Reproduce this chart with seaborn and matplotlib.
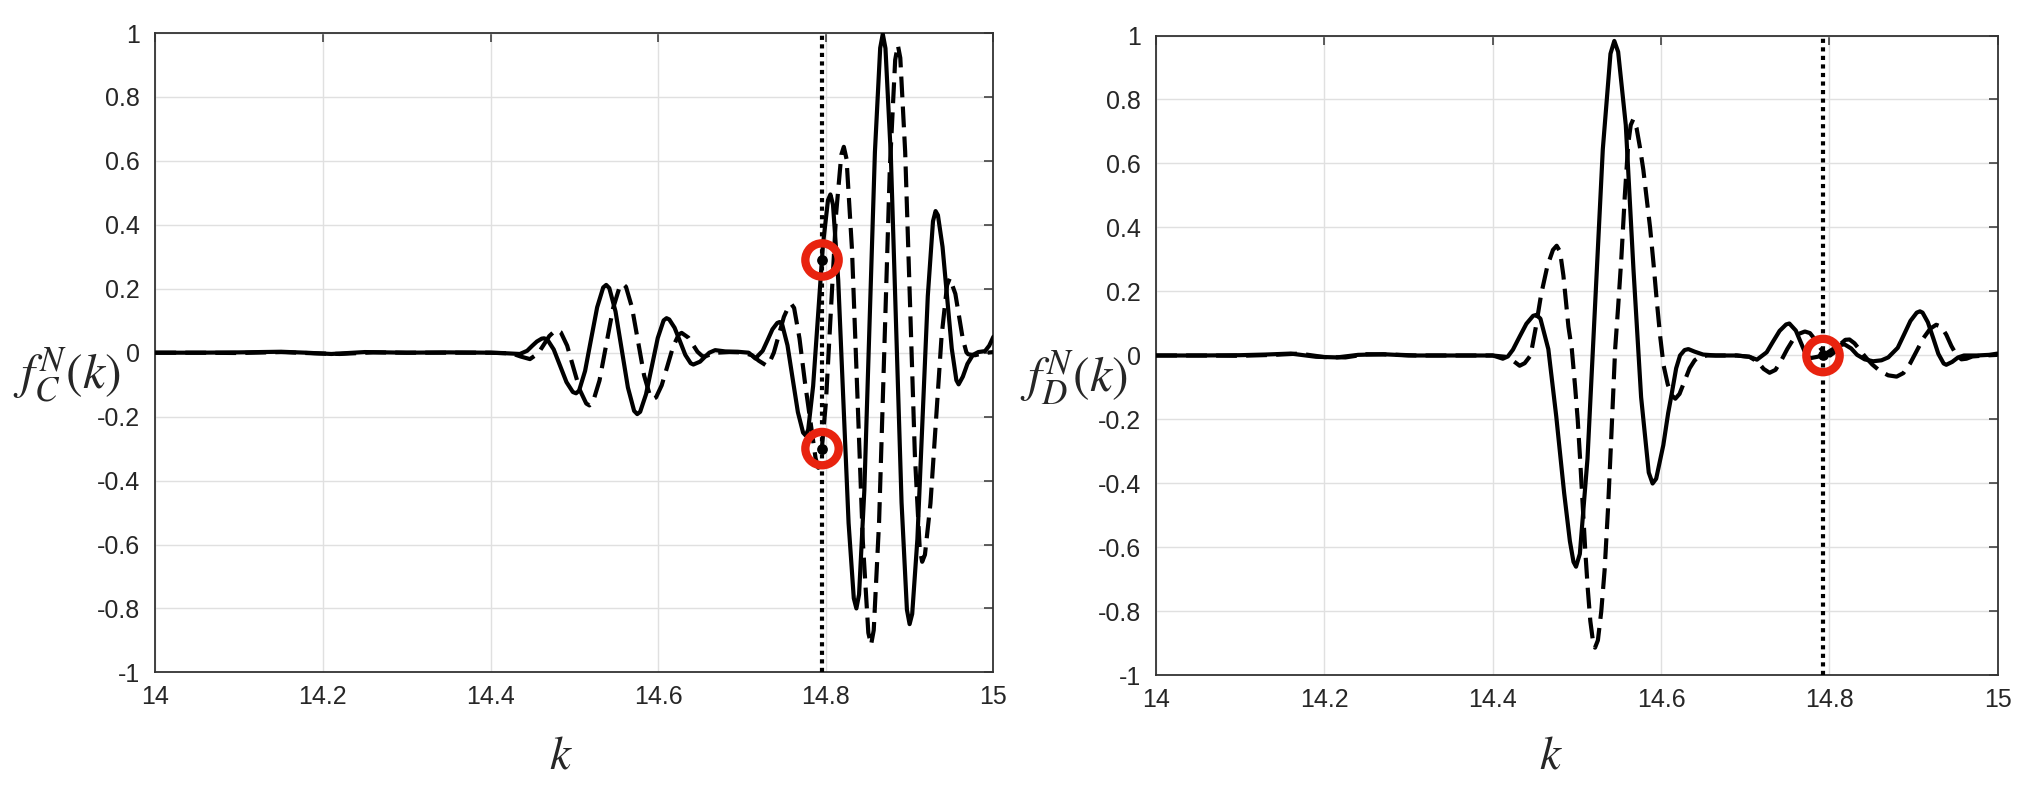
import numpy as np
import pandas as pd
import matplotlib
matplotlib.use("Agg")
import matplotlib.pyplot as plt
import seaborn as sns

# ---------------- data ----------------
kC_solid = [14.000, 14.050, 14.100, 14.150, 14.180, 14.210, 14.250, 14.300, 14.350, 14.400, 14.420, 14.435,
            14.4437, 14.4495, 14.4553, 14.4611, 14.464, 14.4678, 14.4754, 14.483, 14.4906, 14.4982, 14.502,
            14.5056, 14.5128, 14.520, 14.5272, 14.5344, 14.538, 14.5417, 14.5491, 14.5565, 14.5639, 14.5713,
            14.575, 14.5785, 14.5855, 14.5925, 14.5995, 14.6065, 14.610, 14.6132, 14.6196, 14.626, 14.6324,
            14.6388, 14.642, 14.650, 14.655, 14.661, 14.668, 14.680, 14.695, 14.708, 14.716, 14.7247, 14.7305,
            14.7363, 14.7421, 14.745, 14.7481, 14.7543, 14.7605, 14.7667, 14.7729, 14.776, 14.7790, 14.7849,
            14.7908, 14.7967, 14.8026, 14.8055, 14.8086, 14.8148, 14.8210, 14.8272, 14.8334, 14.8365, 14.8397,
            14.8460, 14.8523, 14.8586, 14.8649, 14.868, 14.8712, 14.8776, 14.884, 14.8904, 14.8968, 14.900,
            14.9031, 14.9093, 14.9155, 14.9217, 14.9279, 14.931, 14.9338, 14.9393, 14.9448, 14.9503, 14.9558,
            14.9585, 14.9635, 14.969, 14.9755, 14.982, 14.990, 14.995, 15.000]
fC_solid = [0.000, 0.000, 0.001, 0.003, 0.000, -0.004, 0.002, 0.000, 0.001, 0.000, -0.002, -0.004,
            0.006, 0.021, 0.035, 0.044, 0.045, 0.041, 0.010, -0.041, -0.092, -0.123, -0.127,
            -0.119, -0.057, 0.043, 0.142, 0.204, 0.212, 0.202, 0.129, 0.010, -0.109, -0.182,
            -0.192, -0.185, -0.130, -0.042, 0.046, 0.101, 0.108, 0.104, 0.078, 0.036, -0.007,
            -0.033, -0.037, -0.028, -0.015, 0.000, 0.008, 0.004, 0.003, 0.000, -0.018, 0.006, 0.039,
            0.073, 0.093, 0.096, 0.087, 0.023, -0.082, -0.186, -0.250, -0.259, -0.241, -0.104,
            0.118, 0.340, 0.477, 0.495, 0.463, 0.228, -0.153, -0.533, -0.768, -0.800, -0.756,
            -0.430, 0.099, 0.627, 0.953, 0.997, 0.952, 0.617, 0.074, -0.469, -0.804, -0.849,
            -0.817, -0.583, -0.203, 0.177, 0.411, 0.443, 0.430, 0.331, 0.172, 0.013, -0.086,
            -0.099, -0.075, -0.035, -0.007, 0.002, 0.005, 0.022, 0.050]

kC_dash = [14.000, 14.050, 14.100, 14.150, 14.190, 14.220, 14.260, 14.300, 14.350, 14.400, 14.425, 14.436,
           14.447, 14.4569, 14.4635, 14.4701, 14.4767, 14.480, 14.4838, 14.4914, 14.499, 14.5066, 14.5142,
           14.518, 14.522, 14.530, 14.538, 14.546, 14.554, 14.558, 14.5616, 14.5688, 14.576, 14.5832,
           14.5904, 14.594, 14.5974, 14.6042, 14.611, 14.6178, 14.6246, 14.628, 14.6361, 14.6415, 14.6469,
           14.6523, 14.655, 14.662, 14.670, 14.685, 14.700, 14.712, 14.720, 14.729, 14.732, 14.738, 14.744,
           14.750, 14.756, 14.759, 14.7622, 14.7686, 14.775, 14.7814, 14.7878, 14.791, 14.7941, 14.8002,
           14.8063, 14.8124, 14.8185, 14.8215, 14.82475, 14.83125, 14.83775, 14.84425, 14.85075, 14.854,
           14.8572, 14.8636, 14.870, 14.8764, 14.8828, 14.886, 14.8889, 14.8947, 14.9005, 14.9063, 14.9121,
           14.915, 14.9183, 14.9249, 14.9315, 14.9381, 14.9447, 14.948, 14.9546, 14.959, 14.9634, 14.9678,
           14.970, 14.978, 14.986, 14.993, 15.000]
fC_dash = [0.000, 0.000, -0.001, 0.002, -0.002, -0.004, 0.001, 0.000, 0.000, 0.000, -0.002, -0.012,
           -0.020, -0.002, 0.025, 0.052, 0.068, 0.070, 0.064, 0.022, -0.048, -0.117, -0.159,
           -0.165, -0.156, -0.087, 0.025, 0.137, 0.206, 0.215, 0.206, 0.141, 0.035, -0.071,
           -0.136, -0.145, -0.140, -0.102, -0.042, 0.019, 0.057, 0.062, 0.047, 0.025, 0.003,
           -0.010, -0.012, -0.006, 0.000, 0.002, 0.001, -0.008, -0.025, -0.040, -0.035, 0.000, 0.056,
           0.112, 0.147, 0.152, 0.140, 0.045, -0.090, -0.210, -0.330, -0.360, -0.335, -0.153,
           0.142, 0.437, 0.619, 0.644, 0.606, 0.323, -0.135, -0.593, -0.876, -0.914,
           -0.868, -0.528, 0.024, 0.576, 0.916, 0.962, 0.922, 0.629, 0.154, -0.321, -0.614,
           -0.654, -0.632, -0.471, -0.211, 0.050, 0.211, 0.233, 0.184, 0.114, 0.044, 0.001,
           -0.005, -0.008, -0.003, 0.000, 0.002]

kD_solid = [14.000, 14.050, 14.100, 14.130, 14.160, 14.190, 14.215, 14.240, 14.270, 14.300, 14.350, 14.400,
            14.405, 14.412, 14.418, 14.424, 14.432, 14.440, 14.448, 14.452, 14.4567, 14.4661, 14.4755,
            14.4849, 14.4917, 14.4960, 14.499, 14.50355, 14.51265, 14.52175, 14.53085, 14.53995, 14.5445,
            14.54905, 14.55815, 14.56725, 14.57635, 14.58545, 14.590, 14.59425, 14.60275, 14.6085, 14.6127,
            14.6180, 14.6226, 14.6280, 14.6325, 14.640, 14.650, 14.665, 14.690, 14.705, 14.714, 14.72555,
            14.73325, 14.74095, 14.74865, 14.7525, 14.7602, 14.7653, 14.7704, 14.7755, 14.778, 14.786,
            14.795, 14.803, 14.812, 14.818, 14.826, 14.833, 14.842, 14.852, 14.862, 14.870, 14.8813,
            14.8889, 14.8964, 14.9039, 14.9077, 14.9108, 14.9171, 14.9234, 14.9296, 14.9359, 14.939,
            14.946, 14.953, 14.960, 14.975, 14.990, 15.000]
fD_solid = [0.000, 0.000, 0.001, 0.003, 0.006, -0.004, -0.006, 0.002, 0.004, 0.000, 0.000, 0.000,
            -0.004, -0.010, -0.003, 0.018, 0.059, 0.099, 0.124, 0.127, 0.115, 0.020, -0.190,
            -0.430, -0.580, -0.645, -0.660, -0.620, -0.322, 0.162, 0.645, 0.943, 0.983,
            0.949, 0.720, 0.270, -0.130, -0.366, -0.400, -0.385, -0.280, -0.180, -0.120,
            -0.040, 0.000, 0.017, 0.020, 0.012, 0.003, 0.000, 0.000, -0.004, -0.013, 0.010,
            0.044, 0.077, 0.097, 0.100, 0.078, 0.046, 0.014, -0.005, -0.008, -0.004,
            0.004, 0.018, 0.032, 0.035, 0.022, 0.002, -0.012, -0.018, -0.015, -0.006, 0.024,
            0.066, 0.108, 0.134, 0.138, 0.134, 0.104, 0.055, 0.005, -0.025, -0.029,
            -0.020, -0.006, 0.000, 0.000, 0.002, 0.006]

kD_dash = [14.000, 14.050, 14.100, 14.140, 14.170, 14.200, 14.225, 14.250, 14.280, 14.310, 14.350, 14.400,
           14.415, 14.425, 14.432, 14.438, 14.445, 14.451, 14.4575, 14.465, 14.4716, 14.476, 14.480,
           14.484, 14.490, 14.494, 14.498, 14.501, 14.504, 14.507, 14.510, 14.513, 14.516, 14.519,
           14.5216, 14.525, 14.529, 14.533, 14.537, 14.541, 14.5455, 14.549, 14.553, 14.557, 14.561,
           14.564, 14.567, 14.571, 14.575, 14.579, 14.583, 14.587, 14.591, 14.595, 14.599, 14.603,
           14.608, 14.613, 14.617, 14.622, 14.628, 14.634, 14.640, 14.646, 14.655, 14.690, 14.705,
           14.715, 14.722, 14.729, 14.736, 14.743, 14.750, 14.757, 14.764, 14.771, 14.777, 14.783,
           14.789, 14.795, 14.801, 14.807, 14.813, 14.819, 14.824, 14.830, 14.836, 14.843, 14.851,
           14.860, 14.870, 14.880, 14.888, 14.896, 14.904, 14.912, 14.920, 14.927, 14.933, 14.939,
           14.945, 14.951, 14.957, 14.963, 14.970, 14.985, 15.000]
fD_dash = [0.000, 0.000, -0.001, 0.002, 0.006, -0.005, -0.006, 0.004, 0.003, 0.000, 0.000, 0.000,
           -0.004, -0.018, -0.032, -0.024, 0.000, 0.085, 0.190, 0.280, 0.330, 0.343, 0.325,
           0.250, 0.090, 0.020, -0.100, -0.200, -0.330, -0.470, -0.610, -0.730, -0.830, -0.890,
           -0.913, -0.890, -0.800, -0.670, -0.480, -0.250, 0.020, 0.150, 0.310, 0.500, 0.660,
           0.720, 0.738, 0.710, 0.650, 0.580, 0.490, 0.400, 0.290, 0.170, 0.060, -0.030,
           -0.090, -0.125, -0.135, -0.120, -0.080, -0.040, -0.015, -0.004, 0.000, 0.000, -0.004,
           -0.020, -0.042, -0.054, -0.045, -0.015, 0.020, 0.050, 0.068, 0.075, 0.070, 0.050,
           0.025, 0.004, 0.000, 0.012, 0.035, 0.049, 0.050, 0.038, 0.018, -0.005, -0.028,
           -0.048, -0.062, -0.066, -0.055, -0.025, 0.015, 0.055, 0.084, 0.096, 0.090, 0.065,
           0.030, 0.002, -0.012, -0.010, -0.003, 0.000, 0.002]

# marked points
kC_mark = [14.7955, 14.7955]
fC_mark = [0.29, -0.30]
kD_mark = [14.7925]
fD_mark = [0.0]
k_cut_C = 14.7955
k_cut_D = 14.7925

xticks = [14.0, 14.2, 14.4, 14.6, 14.8, 15.0]
xticklabels = ['14', '14.2', '14.4', '14.6', '14.8', '15']
yticks = [-1.0, -0.8, -0.6, -0.4, -0.2, 0.0, 0.2, 0.4, 0.6, 0.8, 1.0]
yticklabels = ['-1', '-0.8', '-0.6', '-0.4', '-0.2', '0', '0.2', '0.4', '0.6', '0.8', '1']

# ---------------- styling ----------------
sns.set_theme(style="white")
plt.rcParams['font.family'] = ['Liberation Sans', 'DejaVu Sans']
plt.rcParams['mathtext.fontset'] = 'stix'
plt.rcParams['axes.unicode_minus'] = False

RED = '#e8230f'
LW = 3.0

fig = plt.figure(figsize=(20.23, 7.91), dpi=100)
axL = fig.add_axes([0.07677, 0.14994, 0.41429, 0.80834])
axR = fig.add_axes([0.57148, 0.14602, 0.41597, 0.80910])


def draw(ax, ks, fs, kd, fd, km, fm, kcut):
    sns.lineplot(x=ks, y=fs, ax=ax, color='black', lw=LW, estimator=None, sort=False,
                 solid_joinstyle='round', zorder=3)
    sns.lineplot(x=kd, y=fd, ax=ax, color='black', lw=LW, estimator=None, sort=False,
                 linestyle='--', zorder=3)
    ax.lines[-1].set_dashes((5.0, 2.2))
    ax.lines[-1].set_dash_joinstyle('round')
    vl = ax.axvline(kcut, color='black', lw=3.0, zorder=4)
    vl.set_dashes((1.0, 1.05))
    sns.scatterplot(x=km, y=fm, ax=ax, s=24.0 ** 2, marker='o', zorder=5)
    ring = ax.collections[-1]
    ring.set_facecolor('none')
    ring.set_edgecolor(RED)
    ring.set_linewidth(6.0)
    sns.scatterplot(x=km, y=fm, ax=ax, s=60, marker='o', zorder=6)
    dot = ax.collections[-1]
    dot.set_facecolor('black')
    dot.set_edgecolor('black')
    dot.set_linewidth(0)


def style(ax):
    ax.set_xlim(14, 15)
    ax.set_ylim(-1, 1)
    ax.set_xticks(xticks)
    ax.set_xticklabels(xticklabels)
    ax.set_yticks(yticks)
    ax.set_yticklabels(yticklabels)
    ax.grid(True, color='#e0e0e0', lw=1.0)
    ax.set_axisbelow(True)
    for s in ax.spines.values():
        s.set_visible(True)
        s.set_color('#333333')
        s.set_linewidth(1.3)
    ax.tick_params(direction='in', top=True, right=True, length=6.5, width=1.1,
                   color='#333333', labelsize=18, labelcolor='#262626')
    ax.tick_params(axis='x', pad=9)
    ax.tick_params(axis='y', pad=11)


draw(axL, kC_solid, fC_solid, kC_dash, fC_dash, kC_mark, fC_mark, k_cut_C)
draw(axR, kD_solid, fD_solid, kD_dash, fD_dash, kD_mark, fD_mark, k_cut_D)
style(axL)
style(axR)

axL.set_ylabel(r'$f_C^N(k)$', fontsize=36, rotation=0, ha='left', va='center')
axL.yaxis.set_label_coords(-0.1698, 0.465)
axR.set_ylabel(r'$f_D^N(k)$', fontsize=36, rotation=0, ha='left', va='center')
axR.yaxis.set_label_coords(-0.1617, 0.465)

axL.set_xlabel(r'$k$', fontsize=34, va='center')
axL.xaxis.set_label_coords(0.484, -0.132)
axR.set_xlabel(r'$k$', fontsize=34, va='center')
axR.xaxis.set_label_coords(0.469, -0.127)

fig.savefig('out.png', dpi=100, facecolor='white')
